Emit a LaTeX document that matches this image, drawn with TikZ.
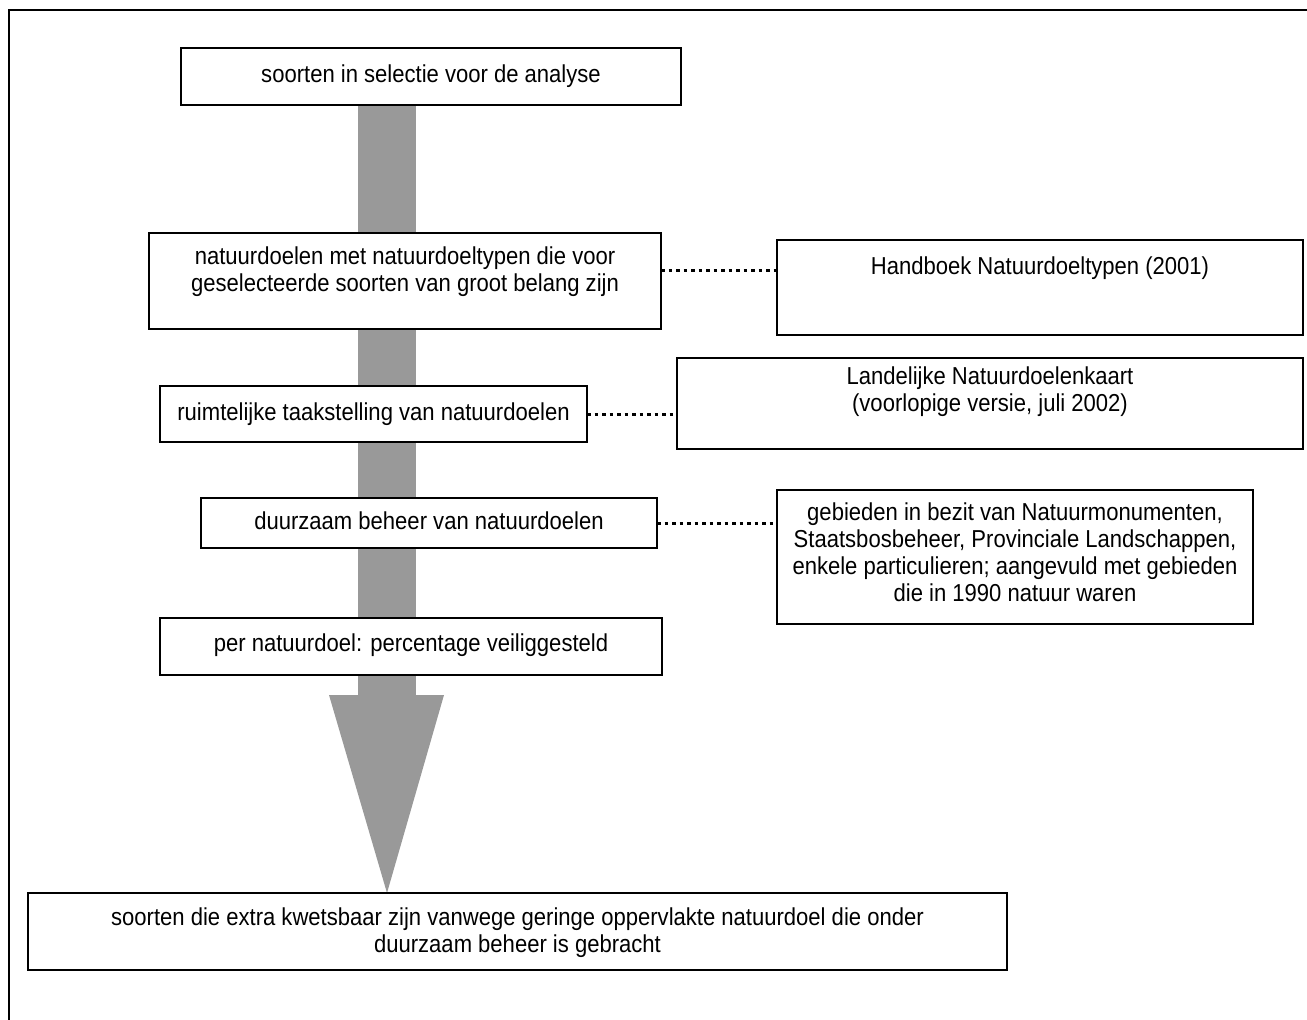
\documentclass[tikz,border=0pt]{standalone}
\usepackage{fontspec}
\newfontfamily\boxfont{Liberation Sans}[FakeStretch=0.9]
\definecolor{arrowgray}{RGB}{153,153,153}
\begin{document}
\begin{tikzpicture}[x=1pt,y=-1pt,
  box/.style={draw=black, line width=1.4pt, fill=white, inner sep=0pt, outer sep=0pt, anchor=north west},
  tfont/.style={font=\boxfont\fontsize{24.5}{27}\selectfont},
  txt/.style={tfont, inner sep=0pt, outer sep=0pt, text height=18pt, text depth=5.2pt},
  mtxt/.style={tfont, inner sep=0pt, outer sep=0pt, align=center, anchor=north},
  dotline/.style={line width=3pt, dash pattern=on 3.5pt off 4pt},
  arrowfill/.style={fill=arrowgray, draw=none},
  frame/.style={line width=2.5pt}]
\useasboundingbox (0,0) rectangle (1307,1020);
% outer frame (open on the right and bottom)
\draw[frame] (9,1020) -- (9,10) -- (1307,10);
% big gray arrow behind the boxes
\fill[arrowfill] (358,100) rectangle (416,696);
\fill[arrowfill] (329,695) -- (444,695) -- (387,893) -- cycle;
% boxes
\node[box, minimum width=500pt, minimum height=57pt] (b1) at (181,48) {};
\node[box, minimum width=512pt, minimum height=96pt] (b2) at (149,233) {};
\node[box, minimum width=526pt, minimum height=95pt] (hb) at (777,240) {};
\node[box, minimum width=427pt, minimum height=56pt] (b3) at (160,386) {};
\node[box, minimum width=626pt, minimum height=91pt] (lk) at (677,358) {};
\node[box, minimum width=456pt, minimum height=50pt] (b4) at (201,498) {};
\node[box, minimum width=476pt, minimum height=134pt] (gb) at (777,490) {};
\node[box, minimum width=502pt, minimum height=57pt] (b5) at (160,618) {};
\node[box, minimum width=979pt, minimum height=77pt] (bt) at (28,893) {};
% texts
\node[txt] (b1t) at (b1.center |- 0,76) {soorten in selectie voor de analyse};
\node[mtxt] (b2t) at (b2.center |- 0,246.5) {natuurdoelen met natuurdoeltypen die voor\\geselecteerde soorten van groot belang zijn};
\node[txt] (hbt) at (hb.center |- 0,268) {Handboek Natuurdoeltypen (2001)};
\node[txt] (b3t) at (b3.center |- 0,414) {ruimtelijke taakstelling van natuurdoelen};
\node[mtxt] (lkt) at (lk.center |- 0,367) {Landelijke Natuurdoelenkaart\\(voorlopige versie, juli 2002)};
\node[txt] (b4t) at (b4.center |- 0,523) {duurzaam beheer van natuurdoelen};
\node[mtxt] (gbt) at (gb.center |- 0,502.5) {gebieden in bezit van Natuurmonumenten,\\Staatsbosbeheer, Provinciale Landschappen,\\enkele particulieren; aangevuld met gebieden\\die in 1990 natuur waren};
\node[txt] (b5t) at (b5.center |- 0,645) {per natuurdoel: percentage veiliggesteld};
\node[mtxt] (btt) at (bt.center |- 0,908) {soorten die extra kwetsbaar zijn vanwege geringe oppervlakte natuurdoel die onder\\duurzaam beheer is gebracht};
% dotted connectors
\draw[dotline] (b2.east |- 0,270) -- (hb.west |- 0,270);
\draw[dotline] (b3.east) -- (b3.east -| lk.west);
\draw[dotline] (b4.east) -- (b4.east -| gb.west);
\end{tikzpicture}
\end{document}
